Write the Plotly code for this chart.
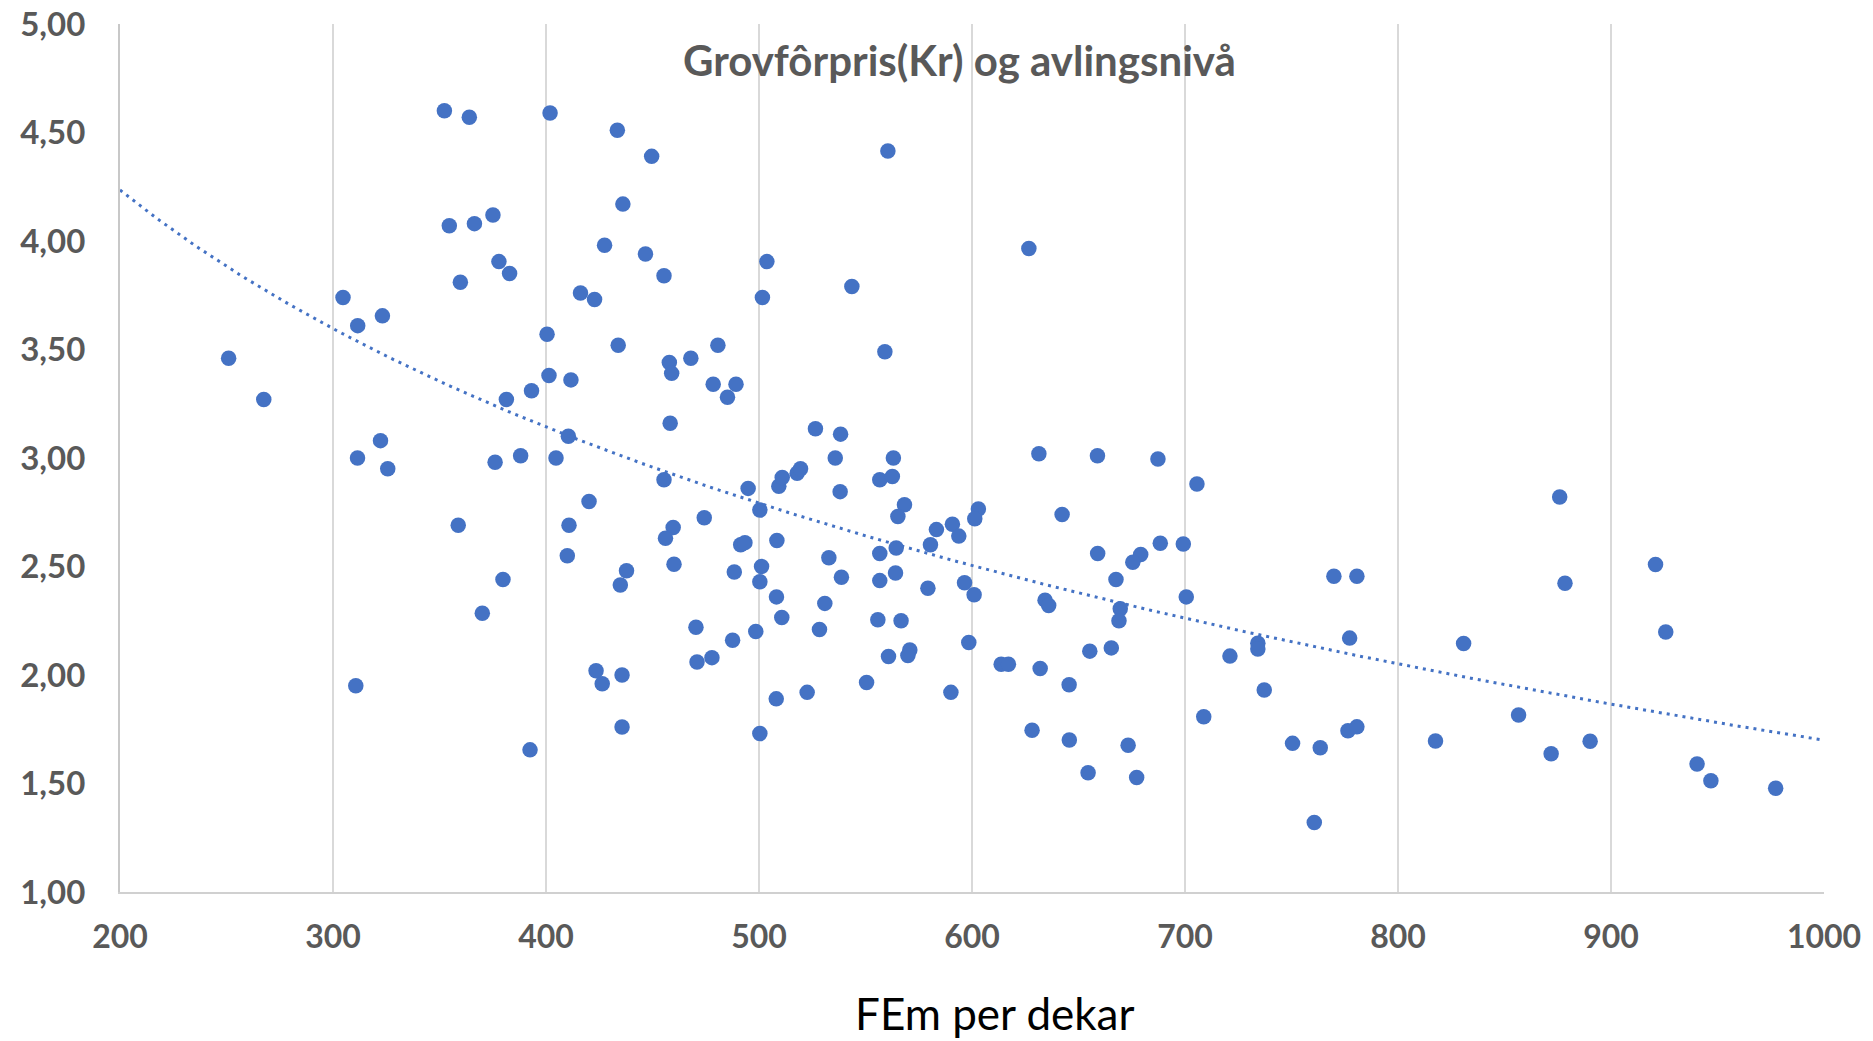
import numpy as np
import plotly.graph_objects as go

# FEm per dekar (x) and Grovfôrpris Kr (y)
fem = [
    251.0, 267.5, 304.7, 311.6, 323.2, 322.3, 311.5, 325.7, 310.7,
    352.3, 364.0, 401.9, 433.5, 449.6, 436.1, 354.6, 366.4, 375.1, 427.5,
    446.7, 377.9, 382.9, 359.8, 455.4, 416.2, 422.8, 400.5, 433.9, 457.9,
    459.0, 401.4, 411.7, 393.2, 381.4, 458.3, 410.5, 376.1, 388.1, 404.7,
    455.4, 420.2, 358.8, 410.8, 459.7, 456.1,
    410.0, 460.1, 379.8, 437.8, 434.9, 370.1, 423.5, 426.4, 435.7, 435.7, 392.5,
    560.5, 503.7, 501.6, 543.6, 559.1, 480.7, 468.0, 478.5, 489.2, 485.2,
    526.5, 538.3, 535.8, 494.9, 500.4, 509.3, 510.9, 517.9, 519.5, 556.7,
    538.1, 474.3,
    491.4, 493.4, 508.4, 488.4, 501.2, 500.4, 532.8, 538.7, 556.7, 556.7,
    508.2, 530.9, 510.7, 528.4, 555.8, 470.4, 498.5, 487.6, 477.9, 470.9,
    550.5, 522.6, 508.1, 500.4,
    626.7, 563.1, 562.6, 631.4, 658.9, 568.3, 565.2, 603.0, 601.3, 642.3,
    583.3, 590.8, 593.8, 580.5, 564.4, 659.0, 564.1, 579.3, 596.5, 601.0,
    634.3, 636.0, 566.7, 598.5, 560.8, 570.8, 569.9, 613.7, 617.1, 632.0,
    655.3, 645.6, 590.1, 628.2, 645.7, 654.5,
    687.3, 705.6, 679.2, 675.5, 688.4, 699.2, 667.6, 700.6, 669.6, 669.0,
    665.4, 673.3, 677.3, 721.1, 734.2, 734.2, 708.8, 737.2, 750.5, 763.5,
    760.7, 769.9, 780.7, 777.3, 776.5, 780.7,
    875.9, 878.4, 920.9, 925.7, 830.8, 856.6, 817.6, 871.9, 890.2, 940.4,
    946.9, 977.3,
]
pris = [
    3.46, 3.27, 3.74, 3.61, 3.655, 3.08, 3.00, 2.95, 1.95,
    4.60, 4.57, 4.59, 4.51, 4.39, 4.17, 4.07, 4.08, 4.12, 3.98,
    3.94, 3.905, 3.85, 3.81, 3.84, 3.76, 3.73, 3.57, 3.52, 3.44,
    3.39, 3.38, 3.36, 3.31, 3.27, 3.16, 3.10, 2.98, 3.01, 3.00,
    2.90, 2.80, 2.69, 2.69, 2.68, 2.63,
    2.55, 2.51, 2.44, 2.48, 2.415, 2.285, 2.02, 1.96, 2.00, 1.76, 1.655,
    4.415, 3.905, 3.74, 3.79, 3.49, 3.52, 3.46, 3.34, 3.34, 3.28,
    3.135, 3.11, 3.00, 2.86, 2.76, 2.87, 2.91, 2.93, 2.95, 2.90,
    2.845, 2.725,
    2.60, 2.61, 2.62, 2.475, 2.50, 2.43, 2.54, 2.45, 2.56, 2.435,
    2.36, 2.33, 2.265, 2.21, 2.255, 2.22, 2.20, 2.16, 2.08, 2.06,
    1.965, 1.92, 1.89, 1.73,
    3.965, 3.00, 2.915, 3.02, 3.01, 2.785, 2.73, 2.765, 2.72, 2.74,
    2.67, 2.695, 2.64, 2.60, 2.585, 2.56, 2.47, 2.40, 2.425, 2.37,
    2.345, 2.32, 2.25, 2.15, 2.085, 2.115, 2.09, 2.05, 2.05, 2.03,
    2.11, 1.955, 1.92, 1.745, 1.70, 1.55,
    2.995, 2.88, 2.555, 2.52, 2.607, 2.604, 2.44, 2.36, 2.305, 2.25,
    2.125, 1.676, 1.528, 2.087, 2.146, 2.12, 1.808, 1.931, 1.685, 1.665,
    1.32, 2.455, 2.455, 2.17, 1.743, 1.761,
    2.82, 2.423, 2.509, 2.198, 2.145, 1.816, 1.696, 1.637, 1.695, 1.59,
    1.513, 1.478,
]

title_text = "Grovfôrpris(Kr) og avlingsnivå"
x_title = "FEm per dekar"
x_ticks = [200, 300, 400, 500, 600, 700, 800, 900, 1000]
y_ticks = [1.0, 1.5, 2.0, 2.5, 3.0, 3.5, 4.0, 4.5, 5.0]

blue = "#4472C4"
grey_txt = "#595959"

# logarithmic trendline (least squares on ln x)
xa = np.array(fem)
ya = np.array(pris)
b, a = np.polyfit(np.log(xa), ya, 1)
xt = np.linspace(x_ticks[0], x_ticks[-1], 300)
yt = a + b * np.log(xt)

W, H = 1873, 1041
L, R, T, B = 120, 1824, 24, 892

fig = go.Figure()
fig.add_trace(go.Scatter(
    x=fem, y=pris, mode="markers",
    marker=dict(color=blue, size=15.5, line=dict(width=0)),
    showlegend=False, hoverinfo="x+y",
))
fig.add_trace(go.Scatter(
    x=xt, y=yt, mode="lines",
    line=dict(color=blue, width=3, dash="3px,5px"),
    showlegend=False, hoverinfo="skip",
))

fig.update_layout(
    width=W, height=H,
    margin=dict(l=L, r=W - R, t=T, b=H - B, autoexpand=False),
    paper_bgcolor="white", plot_bgcolor="white",
    separators=", ",
    font=dict(family="Lato", color=grey_txt),
    xaxis=dict(
        range=[x_ticks[0], x_ticks[-1]], tickvals=x_ticks,
        automargin=False, ticklabeloverflow="allow",
        showgrid=True, gridcolor="#d9d9d9", gridwidth=2,
        showline=True, linecolor="#d0d0d0", linewidth=2,
        zeroline=False,
        ticks="outside", ticklen=16, tickcolor="rgba(0,0,0,0)",
        tickfont=dict(family="Lato", size=32, color=grey_txt, weight="bold"),
    ),
    yaxis=dict(
        range=[y_ticks[0], y_ticks[-1]], tickvals=y_ticks, tickformat=".2f",
        automargin=False, ticklabeloverflow="allow",
        showgrid=False,
        showline=True, linecolor="#c8c8c8", linewidth=2,
        zeroline=False,
        ticks="outside", ticklen=26, tickcolor="rgba(0,0,0,0)",
        tickfont=dict(family="Lato", size=33, color=grey_txt, weight="bold"),
    ),
    annotations=[
        dict(text=title_text, xref="paper", yref="paper",
             x=(959 - L) / (R - L), y=1 - (60 - T) / (B - T),
             xanchor="center", yanchor="middle", showarrow=False,
             font=dict(family="Lato", size=42, color=grey_txt, weight="bold")),
        dict(text=x_title, xref="paper", yref="paper",
             x=(995 - L) / (R - L), y=-(1013 - B) / (B - T),
             xanchor="center", yanchor="middle", showarrow=False,
             font=dict(family="Lato", size=44, color="#000000")),
    ],
)

fig.write_html("out.html", config={"displayModeBar": False},
               post_script="document.body.style.margin='0';")
